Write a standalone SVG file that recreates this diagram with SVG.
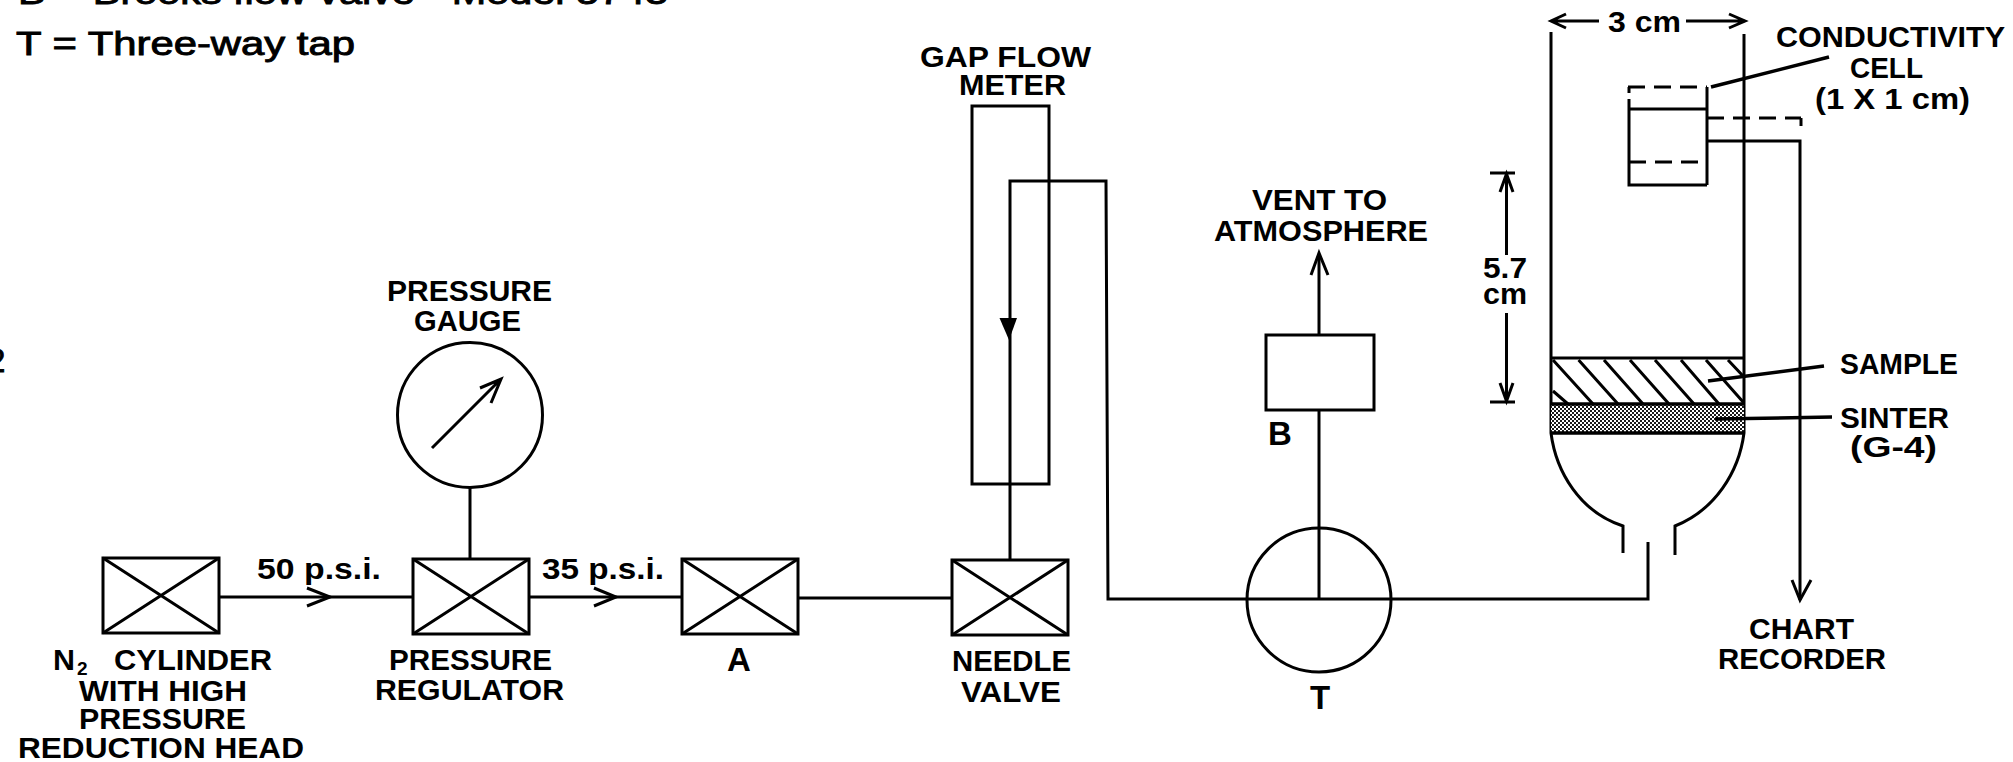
<svg xmlns="http://www.w3.org/2000/svg" width="2013" height="762" viewBox="0 0 2013 762">
<style>
text{font-family:"Liberation Sans",Arial,sans-serif;font-weight:bold;fill:#000;font-size:29px}
.k{font-size:33px;font-weight:normal;stroke:#000;stroke-width:.9px}
.s{font-size:33px}
line,path,rect,circle,ellipse,polyline{fill:none;stroke:#000;stroke-width:3;stroke-linejoin:miter}
.d{stroke-dasharray:17 9}
.h{stroke-width:3}
.t{stroke-width:3.5}
path.f{fill:#000;stroke:none}
rect.p{fill:url(#dots);stroke:none}
rect.pa{fill:#fff;stroke:none}
rect.pb{fill:#1a1a1a;stroke:none}
</style>
<defs>
<pattern id="dots" width="4" height="4" patternUnits="userSpaceOnUse"><rect class="pa" width="4" height="4"/><rect class="pb" x="0" y="0" width="2" height="2"/><rect class="pb" x="2" y="2" width="2" height="2"/></pattern>
<g id="xbox"><rect width="116" height="75"/><path d="M0 0L116 75M116 0L0 75"/></g>
</defs>
<g id="legend">
<text class="k" x="18" y="4" textLength="650" lengthAdjust="spacingAndGlyphs">B = Brooks flow valve - Model 5743</text>
<text class="k" x="16" y="55" textLength="339" lengthAdjust="spacingAndGlyphs">T = Three-way tap</text>
<text class="k" x="-13" y="372">2</text>
</g>
<g id="connectors">
<path d="M220 597H413"/><path d="M307 588L330 597L307 606"/>
<path d="M528 597H682"/><path d="M594 588L616 597L594 606"/>
<path d="M799 598H952"/>
<path d="M470 487V559"/>
<path d="M1010 560V181H1106L1108 599H1648V542"/>
<path class="f" d="M999.500 318H1017L1009 340Z"/>
<path d="M1319 600V411"/>
<path d="M1319 335V254"/><path d="M1311 275L1319 253L1328 275"/>
<path d="M1707 141H1800V600"/><path d="M1792 580L1800 600L1811 580"/>
</g>
<g id="cylinder"><use href="#xbox" x="103" y="558"/>
<text x="53" y="670" textLength="22" lengthAdjust="spacingAndGlyphs">N</text>
<text x="77" y="675" style="font-size:19px">2</text>
<text x="114" y="670" textLength="158" lengthAdjust="spacingAndGlyphs">CYLINDER</text>
<text x="79" y="701" textLength="168" lengthAdjust="spacingAndGlyphs">WITH HIGH</text>
<text x="79" y="729" textLength="167" lengthAdjust="spacingAndGlyphs">PRESSURE</text>
<text x="18" y="758" textLength="286" lengthAdjust="spacingAndGlyphs">REDUCTION HEAD</text>
</g>
<g id="regulator"><use href="#xbox" x="413" y="559"/>
<text x="389" y="670" textLength="163" lengthAdjust="spacingAndGlyphs">PRESSURE</text>
<text x="375" y="700" textLength="189" lengthAdjust="spacingAndGlyphs">REGULATOR</text>
</g>
<g id="gauge"><circle cx="470" cy="415" r="72.500"/>
<path d="M432 448L501 379M480 388L501 379L491 403"/>
<text x="387" y="301" textLength="165" lengthAdjust="spacingAndGlyphs">PRESSURE</text>
<text x="414" y="331" textLength="107" lengthAdjust="spacingAndGlyphs">GAUGE</text>
</g>
<g id="valve-a"><use href="#xbox" x="682" y="559"/><text x="727" y="671" class="s">A</text></g>
<g id="needle-valve"><use href="#xbox" x="952" y="560"/>
<text x="952" y="671" textLength="119" lengthAdjust="spacingAndGlyphs">NEEDLE</text>
<text x="961" y="702" textLength="100" lengthAdjust="spacingAndGlyphs">VALVE</text>
</g>
<g id="flow-meter"><rect x="972" y="106" width="77" height="378"/>
<text x="920" y="67" textLength="171" lengthAdjust="spacingAndGlyphs">GAP FLOW</text>
<text x="959" y="95" textLength="107" lengthAdjust="spacingAndGlyphs">METER</text>
</g>
<g id="tap"><circle cx="1319" cy="600" r="72"/><text x="1310" y="709" class="s">T</text></g>
<g id="valve-b"><rect x="1266" y="335" width="108" height="75"/><text x="1268" y="445" class="s">B</text>
<text x="1252" y="210" textLength="135" lengthAdjust="spacingAndGlyphs">VENT TO</text>
<text x="1214" y="241" textLength="214" lengthAdjust="spacingAndGlyphs">ATMOSPHERE</text>
</g>
<g id="labels">
<text x="257" y="579" textLength="124" lengthAdjust="spacingAndGlyphs">50 p.s.i.</text>
<text x="542" y="579" textLength="122" lengthAdjust="spacingAndGlyphs">35 p.s.i.</text>
</g>
<g id="vessel">
<path d="M1551 32V433C1556 472 1580 512 1623 526V553"/>
<path d="M1744 34V433C1739 472 1715 510 1675 526V555"/>
<rect class="p" x="1551" y="404" width="193" height="29"/>
<path d="M1551 358H1744"/>
<path class="t" d="M1551 404H1744M1551 433H1744"/>
<path class="h" d="M1553 360L1593 404M1578.600 360L1618 404M1604 360L1643 404M1630 360L1669 404M1655 360L1694 404M1681 360L1719 404M1706 360L1744 403M1728 360L1744 377M1553 391L1568 404"/>
<path class="t" d="M1708 381L1824 366"/>
<path class="t" d="M1715 419L1832 417"/>
<text x="1840" y="374" textLength="118" lengthAdjust="spacingAndGlyphs">SAMPLE</text>
<text x="1840" y="428" textLength="109" lengthAdjust="spacingAndGlyphs">SINTER</text>
<text x="1850" y="457" textLength="87" lengthAdjust="spacingAndGlyphs">(G-4)</text>
<text x="1749" y="639" textLength="105" lengthAdjust="spacingAndGlyphs">CHART</text>
<text x="1718" y="669" textLength="168" lengthAdjust="spacingAndGlyphs">RECORDER</text>
</g>
<g id="dim-3cm">
<path d="M1551 21H1599M1566 14L1551 21L1566 28"/>
<path d="M1686 21H1744M1729 14L1745 21L1729 28"/>
<text x="1608" y="32" textLength="73" lengthAdjust="spacingAndGlyphs">3 cm</text>
</g>
<g id="dim-57">
<path d="M1490 173H1515M1490 402H1515"/>
<path d="M1506.500 174V255M1506.500 313V401"/>
<path d="M1500 192L1506.500 174L1513 192M1500 383L1506.500 401L1513 383"/>
<text x="1483" y="278" textLength="44" lengthAdjust="spacingAndGlyphs">5.7</text>
<text x="1483" y="304" textLength="44" lengthAdjust="spacingAndGlyphs">cm</text>
</g>
<g id="cell">
<path class="d" d="M1628 87H1707"/>
<path d="M1629 87V93M1707 87V185M1629 99V185H1707"/>
<path d="M1629 109H1707"/>
<path class="d" d="M1629 162H1707"/>
<path class="d" d="M1707 118H1801"/><path d="M1801 118V126"/>
<path class="t" d="M1711 87L1829 57"/>
<text x="1776" y="47" textLength="229" lengthAdjust="spacingAndGlyphs">CONDUCTIVITY</text>
<text x="1850" y="78" textLength="73" lengthAdjust="spacingAndGlyphs">CELL</text>
<text x="1815" y="109" textLength="155" lengthAdjust="spacingAndGlyphs">(1 X 1 cm)</text>
</g>
</svg>
